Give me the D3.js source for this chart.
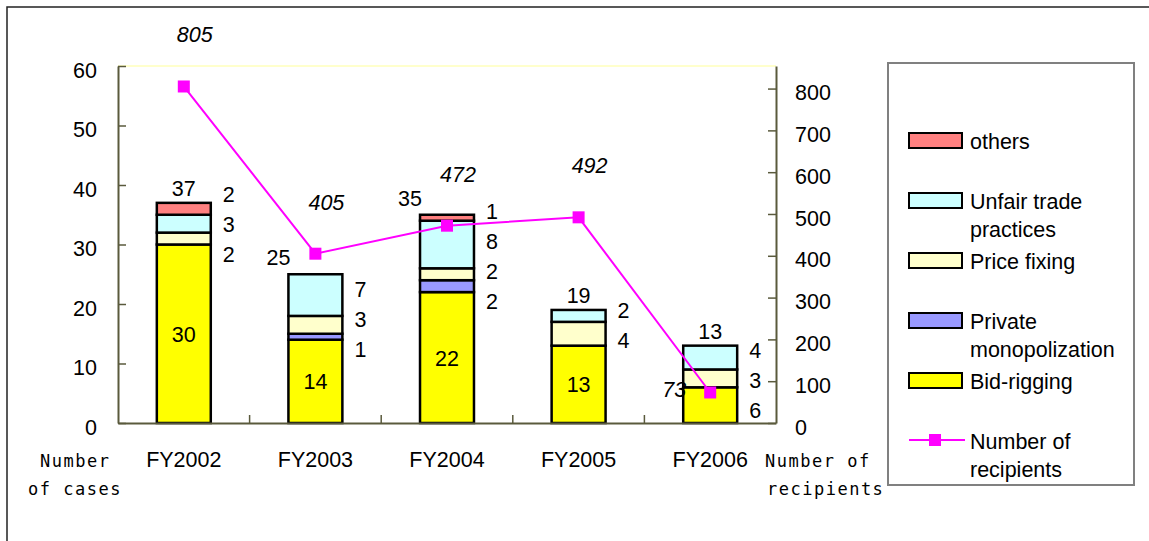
<!DOCTYPE html>
<html>
<head>
<meta charset="utf-8">
<script src="https://cdn.jsdelivr.net/npm/d3@7"></script>
<style>
  body { margin: 0; background: #fff; }
  text { font-family: "Liberation Sans", Arial, sans-serif; }
</style>
</head>
<body>
<svg class="chart" width="1149" height="541"></svg>
<script>
// data
const categories = ["FY2002", "FY2003", "FY2004", "FY2005", "FY2006"];
const bidRigging = [30, 14, 22, 13, 6];
const privateMonopolization = [0, 1, 2, 0, 0];
const priceFixing = [2, 3, 2, 4, 3];
const unfairTrade = [3, 7, 8, 2, 4];
const others = [2, 0, 1, 0, 0];
const recipients = [805, 405, 472, 492, 73];
const caseTicks = [0, 10, 20, 30, 40, 50, 60];
const recipientTicks = [0, 100, 200, 300, 400, 500, 600, 700, 800];

const seriesNames = ["Bid-rigging", "Private monopolization", "Price fixing", "Unfair trade practices", "others"];
const seriesColors = ["#ffff00", "#9999ff", "#ffffcc", "#ccffff", "#ff8080"];
const seriesValues = [bidRigging, privateMonopolization, priceFixing, unfairTrade, others];

const plotLeft = 118, plotRight = 776, plotTop = 66, plotBottom = 423;
const fontSize = 21.5;

const svg = d3.select(".chart");

// outer frame (runs off the picture at right and bottom)
svg.append("rect")
  .attr("x", 7).attr("y", 7)
  .attr("width", 1170).attr("height", 580)
  .attr("fill", "none").attr("stroke", "#222").attr("stroke-width", 1.5);

// scales
const x = d3.scaleBand()
  .domain(categories)
  .range([plotLeft, plotRight])
  .paddingInner(0.59)
  .paddingOuter(0.295);
const yCases = d3.scaleLinear().domain([0, 60]).range([plotBottom, plotTop]);
const yRecip = d3.scaleLinear().domain([0, 854]).range([plotBottom, plotTop]);

// stacked table
const table = categories.map((c, i) => {
  const row = { category: c };
  seriesNames.forEach((s, k) => row[s] = seriesValues[k][i]);
  return row;
});
const stacked = d3.stack().keys(seriesNames)(table);

// plot top edge
svg.append("line")
  .attr("x1", plotLeft).attr("x2", plotRight).attr("y1", plotTop).attr("y2", plotTop)
  .attr("stroke", "#ffffcc").attr("stroke-width", 2);

// bars
stacked.forEach((layer, k) => {
  svg.append("g")
    .selectAll("rect")
    .data(layer.filter(d => d[1] > d[0]))
    .join("rect")
    .attr("x", d => x(d.data.category))
    .attr("y", d => yCases(d[1]))
    .attr("width", x.bandwidth())
    .attr("height", d => yCases(d[0]) - yCases(d[1]))
    .attr("fill", seriesColors[k])
    .attr("stroke", "#000")
    .attr("stroke-width", 2.5);
});

// axes
const axisColor = "#5a5a3c";
function styleAxis(g) {
  g.attr("font-family", null).attr("font-size", null);
  g.selectAll("path.domain").attr("stroke", axisColor).attr("stroke-width", 2);
  g.selectAll(".tick line").attr("stroke", axisColor).attr("stroke-width", 1.5);
  g.selectAll("text").attr("font-size", fontSize).attr("fill", "#000");
}

svg.append("g")
  .attr("transform", `translate(${plotLeft},0)`)
  .call(d3.axisLeft(yCases).tickValues(caseTicks).tickSizeInner(-8).tickSizeOuter(0).tickPadding(21))
  .call(styleAxis)
  .selectAll("text").attr("dy", "0.52em");

svg.append("g")
  .attr("transform", `translate(${plotRight},0)`)
  .call(d3.axisRight(yRecip).tickValues(recipientTicks).tickSizeInner(-8).tickSizeOuter(0).tickPadding(19))
  .call(styleAxis)
  .selectAll("text").attr("dy", "0.52em");

svg.append("g")
  .attr("transform", `translate(0,${plotBottom})`)
  .call(d3.axisBottom(x).tickSize(0).tickPadding(29))
  .call(styleAxis);

// category boundary ticks
svg.append("g")
  .selectAll("line")
  .data(categories.slice(1))
  .join("line")
  .attr("x1", d => x(d) - x.step() * 0.295)
  .attr("x2", d => x(d) - x.step() * 0.295)
  .attr("y1", plotBottom).attr("y2", plotBottom - 8)
  .attr("stroke", axisColor).attr("stroke-width", 1.5);

// segment labels
categories.forEach((c, i) => {
  const bx = x(c);
  const inside = [];
  const outside = [];
  stacked.forEach((layer, k) => {
    const d = layer[i];
    const v = d[1] - d[0];
    if (v <= 0) return;
    const cy = (yCases(d[0]) + yCases(d[1])) / 2;
    const h = yCases(d[0]) - yCases(d[1]);
    if (k === 0 && h > 40) inside.push({ v, y: cy });
    else outside.push({ v, y: cy });
  });
  // push outside labels apart so they don't overlap
  const gap = 30;
  for (let it = 0; it < 100; it++) {
    outside.sort((a, b) => a.y - b.y);
    for (let j = 1; j < outside.length; j++) {
      const dy = outside[j].y - outside[j - 1].y;
      if (dy < gap) {
        const push = (gap - dy) / 2;
        outside[j].y += push;
        outside[j - 1].y -= push;
      }
    }
  }
  svg.append("g").selectAll("text")
    .data(inside).join("text")
    .attr("x", bx + x.bandwidth() / 2).attr("y", d => d.y + 8)
    .attr("text-anchor", "middle").attr("font-size", fontSize)
    .text(d => d.v);
  svg.append("g").selectAll("text")
    .data(outside).join("text")
    .attr("x", bx + x.bandwidth() + 12).attr("y", d => d.y + 8)
    .attr("font-size", fontSize)
    .text(d => d.v);
});

// totals
const totals = categories.map((c, i) => d3.sum(seriesValues, s => s[i]));
const nearLine = (d, i) => Math.abs(yRecip(recipients[i]) - (yCases(d) - 15)) < 30;
svg.append("g").selectAll("text")
  .data(totals).join("text")
  .attr("x", (d, i) => x(categories[i]) + x.bandwidth() / 2 - (nearLine(d, i) ? 37 : 0))
  .attr("y", (d, i) => yCases(d) - (nearLine(d, i) ? 9 : 7))
  .attr("text-anchor", "middle").attr("font-size", fontSize)
  .text(d => d);

// recipients line
const line = d3.line()
  .x((d, i) => x(categories[i]) + x.bandwidth() / 2)
  .y(d => yRecip(d));
svg.append("path")
  .datum(recipients)
  .attr("d", line)
  .attr("fill", "none").attr("stroke", "#ff00ff").attr("stroke-width", 2);
svg.append("g").selectAll("rect")
  .data(recipients).join("rect")
  .attr("x", (d, i) => x(categories[i]) + x.bandwidth() / 2 - 6)
  .attr("y", d => yRecip(d) - 6)
  .attr("width", 12).attr("height", 12)
  .attr("fill", "#ff00ff");

// recipients labels
svg.append("g").selectAll("text")
  .data(recipients).join("text")
  .each(function (d, i) {
    const cx = x(categories[i]) + x.bandwidth() / 2;
    const py = yRecip(d);
    const barTop = yCases(totals[i]);
    const t = d3.select(this);
    if (py - barTop > 20) {
      t.attr("x", cx - 24).attr("y", py + 5).attr("text-anchor", "end");
    } else {
      t.attr("x", cx + 11).attr("y", py - 44).attr("text-anchor", "middle");
    }
  })
  .attr("font-size", fontSize).attr("font-style", "italic")
  .text(d => d);

// axis titles, monospaced look
const monoFont = "'DejaVu Sans Mono', 'Liberation Mono', monospace";
function monoText(tx, ty, str) {
  svg.append("text")
    .attr("x", tx).attr("y", ty)
    .style("font-family", monoFont)
    .attr("font-size", 17)
    .attr("letter-spacing", 1.5)
    .text(str);
}
monoText(40, 467, "Number");
monoText(28, 495, "of cases");
monoText(765, 467, "Number of");
monoText(767, 495, "recipients");

// legend
svg.append("rect")
  .attr("x", 888).attr("y", 63)
  .attr("width", 246).attr("height", 422)
  .attr("fill", "#fff").attr("stroke", "#808080").attr("stroke-width", 2);

const legendItems = [
  { lines: ["others"], color: seriesColors[4] },
  { lines: ["Unfair trade", "practices"], color: seriesColors[3] },
  { lines: ["Price fixing"], color: seriesColors[2] },
  { lines: ["Private", "monopolization"], color: seriesColors[1] },
  { lines: ["Bid-rigging"], color: seriesColors[0] },
  { lines: ["Number of", "recipients"], color: null }
];
const legend = svg.append("g");
legendItems.forEach((item, i) => {
  const yy = 133 + i * 60;
  if (item.color) {
    legend.append("rect")
      .attr("x", 909).attr("y", yy)
      .attr("width", 53).attr("height", 15)
      .attr("fill", item.color).attr("stroke", "#000").attr("stroke-width", 2);
  } else {
    legend.append("line")
      .attr("x1", 909).attr("x2", 965).attr("y1", yy + 7).attr("y2", yy + 7)
      .attr("stroke", "#ff00ff").attr("stroke-width", 2);
    legend.append("rect")
      .attr("x", 929).attr("y", yy + 1).attr("width", 12).attr("height", 12)
      .attr("fill", "#ff00ff");
  }
  item.lines.forEach((ln, j) => {
    legend.append("text")
      .attr("x", 970).attr("y", yy + 16 + j * 28)
      .attr("font-size", fontSize)
      .text(ln);
  });
});
</script>
</body>
</html>
